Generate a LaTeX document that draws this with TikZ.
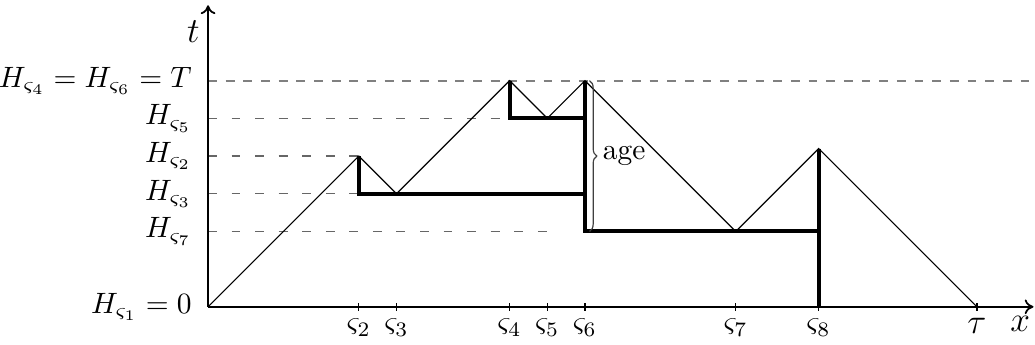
\documentclass[tikz,border=0pt]{standalone}
\usepackage{amsmath,amssymb}
\usepackage{tikz}
\usetikzlibrary{calc,arrows.meta,decorations.pathreplacing}
\tikzset{
  axis/.style={semithick,-{To[length=3pt,width=5pt]}},
  lvl/.style={gray!80!black,thin,dash pattern=on 3pt off 5pt},
  toplvl/.style={gray,semithick,dashed},
  contour/.style={thin},
  tree/.style={line width=1.4pt},
  tick/.style={thin},
  ticklab/.style={font=\normalsize},
}

\begin{document}
\begin{tikzpicture}[x=0.45cm,y=0.45cm]
\useasboundingbox (-5.52,-1.0) rectangle (21.94,8.14);
% contour points
\coordinate (o) at (0,0);
\coordinate (s2) at (4,4);
\coordinate (s3) at (5,3);
\coordinate (s4) at (8,6);
\coordinate (s5) at (9,5);
\coordinate (s6) at (10,6);
\coordinate (s7) at (14,2);
\coordinate (s8) at (16.2,4.2);
\coordinate (tau) at (20.4,0);
% levels
\draw[lvl] (o) -- (4.6,0);
\draw[toplvl] (0,6) -- (21.94,6);
\draw[lvl] (0,5) -- (s4 |- s5);
\draw[lvl] (0,4) -- (s2);
\draw[lvl] (0,3) -- (s2 |- s3);
\draw[lvl] (0,2) -- (9,2);
% axes
\draw[axis] (o) -- (21.9,0) coordinate (xend);
\draw[axis] (o) -- (0,8) coordinate (yend);
\foreach \p/\n in {s2/2,s3/3,s4/4,s5/5,s6/6,s7/7,s8/8}{
  \draw[tick] ($(\p |- o)+(0,0.1)$) -- ($(\p |- o)-(0,0.1)$);
  \node[ticklab] (l\n) at ($(\p |- o)+(0,-0.55)$) {$\varsigma_\n$};
}
\draw[tick] ($(tau)+(0,0.1)$) -- ($(tau)-(0,0.1)$);
\node[font=\large] (ltau) at (20.4,-0.5) {$\tau$};
\node[font=\large] (lx) at (21.55,-0.45) {$x$};
\node[anchor=east,font=\large] (lt) at (0.05,7.3) {$t$};
% contour
\draw[contour] (o) -- (s2) -- (s3) -- (s4) -- (s5) -- (s6) -- (s7) -- (s8) -- (tau);
% tree
\draw[tree] (s2) -- (s2 |- s3) -- (s6 |- s3);
\draw[tree] (s4) -- (s4 |- s5) -- (s6 |- s5);
\draw[tree] (s6) -- (s6 |- s7) -- (s8 |- s7);
\draw[tree] (s8) -- (s8 |- o);
% age
\draw[gray!50!black,thin,decorate,decoration={brace,amplitude=2.5pt}]
  (10.12,6) -- (10.12,2) node[midway,right=1pt,black] (age) {age};
% height labels
\node[anchor=east] (h46) at (-0.16,6) {$H_{\varsigma_4}=H_{\varsigma_6}=T$};
\node[anchor=east] (h5) at (-0.16,5) {$H_{\varsigma_5}$};
\node[anchor=east] (h2) at (-0.16,4) {$H_{\varsigma_2}$};
\node[anchor=east] (h3) at (-0.16,3) {$H_{\varsigma_3}$};
\node[anchor=east] (h7) at (-0.16,2) {$H_{\varsigma_7}$};
\node[anchor=east] (h1) at (-0.16,0) {$H_{\varsigma_1}=0$};
\end{tikzpicture}
\end{document}
